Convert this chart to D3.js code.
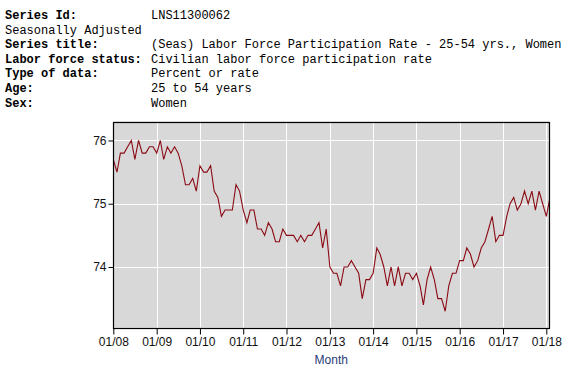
<!DOCTYPE html>
<html>
<head>
<meta charset="utf-8">
<script src="https://cdn.jsdelivr.net/npm/d3@7/dist/d3.min.js"></script>
<style>
  html, body { margin: 0; padding: 0; background: #ffffff; }
  svg { display: block; }
</style>
</head>
<body>
<svg id="chart" width="567" height="375"></svg>
<script>
// ---- header ----
const headerLabels = ["Series Id:", "Seasonally Adjusted", "Series title:", "Labor force status:", "Type of data:", "Age:", "Sex:"];
const headerBold = [true, false, true, true, true, true, true];
const headerValues = ["LNS11300062", "", "(Seas) Labor Force Participation Rate - 25-54 yrs., Women", "Civilian labor force participation rate", "Percent or rate", "25 to 54 years", "Women"];

// ---- data: monthly, Jan 2008 .. Feb 2018 ----
const startYear = 2008, startMonth = 0;
const values = [
  75.7, 75.5, 75.8, 75.8, 75.9, 76.0, 75.7, 76.0, 75.8, 75.8, 75.9, 75.9,
  75.8, 76.0, 75.7, 75.9, 75.8, 75.9, 75.8, 75.6, 75.3, 75.3, 75.4, 75.2,
  75.6, 75.5, 75.5, 75.6, 75.2, 75.1, 74.8, 74.9, 74.9, 74.9, 75.3, 75.2,
  74.9, 74.7, 74.9, 74.9, 74.6, 74.6, 74.5, 74.7, 74.6, 74.4, 74.4, 74.6,
  74.5, 74.5, 74.5, 74.4, 74.5, 74.4, 74.5, 74.5, 74.6, 74.7, 74.3, 74.6,
  74.0, 73.9, 73.9, 73.7, 74.0, 74.0, 74.1, 74.0, 73.9, 73.5, 73.8, 73.8,
  73.9, 74.3, 74.2, 74.0, 73.7, 74.0, 73.7, 74.0, 73.7, 73.9, 73.9, 73.8,
  73.9, 73.7, 73.4, 73.8, 74.0, 73.8, 73.5, 73.5, 73.3, 73.7, 73.9, 73.9,
  74.1, 74.1, 74.3, 74.2, 74.0, 74.1, 74.3, 74.4, 74.6, 74.8, 74.4, 74.5,
  74.5, 74.8, 75.0, 75.1, 74.9, 75.0, 75.2, 75.0, 75.2, 74.9, 75.2, 75.0,
  74.8, 75.1
];
const xTickLabels = ["01/08","01/09","01/10","01/11","01/12","01/13","01/14","01/15","01/16","01/17","01/18"];
const yTickValues = [74, 75, 76];
const xAxisTitle = "Month";

const data = values.map((v, i) => ({ date: new Date(startYear, startMonth + i, 1), value: v }));

const svg = d3.select("#chart");

// header text
const hdr = svg.append("g").attr("font-family", "'Liberation Mono', 'Courier New', monospace").attr("font-size", "12px").attr("fill", "#000");
headerLabels.forEach((t, i) => {
  hdr.append("text").attr("x", 5).attr("y", 19 + i * 14.6)
    .attr("font-weight", headerBold[i] ? "bold" : "normal").text(t);
  if (headerValues[i]) {
    hdr.append("text").attr("x", 151).attr("y", 19 + i * 14.6).text(headerValues[i]);
  }
});

// plot box
const box = { left: 113.3, right: 549.3, top: 121.5, bottom: 327.7 };

const x = d3.scaleTime()
  .domain([data[0].date, data[data.length - 1].date])
  .range([113.3, 550]);
const y = d3.scaleLinear()
  .domain([73.04, 76.3])
  .range([box.bottom, box.top]);

svg.append("rect")
  .attr("x", box.left).attr("y", box.top)
  .attr("width", box.right - box.left).attr("height", box.bottom - box.top)
  .attr("fill", "#d8d8d8");

const xTicks = xTickLabels.map((_, i) => new Date(2008 + i, 0, 1));

// gridlines
svg.append("g").selectAll("line").data(xTicks).join("line")
  .attr("x1", d => Math.round(x(d)) + 0.5).attr("x2", d => Math.round(x(d)) + 0.5)
  .attr("y1", box.top).attr("y2", box.bottom)
  .attr("stroke", "#ffffff").attr("stroke-width", 1);
svg.append("g").selectAll("line").data(yTickValues).join("line")
  .attr("x1", box.left).attr("x2", box.right + 2)
  .attr("y1", d => Math.round(y(d)) + 0.5).attr("y2", d => Math.round(y(d)) + 0.5)
  .attr("stroke", "#ffffff").attr("stroke-width", 1);

// clip
svg.append("clipPath").attr("id", "clip").append("rect")
  .attr("x", box.left).attr("y", box.top)
  .attr("width", box.right - box.left + 0.5).attr("height", box.bottom - box.top);

const line = d3.line().x(d => x(d.date)).y(d => y(d.value));
svg.append("path").datum(data)
  .attr("clip-path", "url(#clip)")
  .attr("d", line)
  .attr("fill", "none")
  .attr("stroke", "#8b0a14")
  .attr("stroke-width", 1.1)
  .attr("stroke-linejoin", "miter");

// border
svg.append("rect")
  .attr("x", Math.round(box.left) + 0.5).attr("y", Math.round(box.top) + 0.5)
  .attr("width", Math.round(box.right) - Math.round(box.left)).attr("height", Math.round(box.bottom) - Math.round(box.top))
  .attr("fill", "none").attr("stroke", "#000").attr("stroke-width", 1.2);

// axes
const xAxis = d3.axisBottom(x).tickValues(xTicks)
  .tickFormat((d, i) => xTickLabels[i]).tickSize(6).tickPadding(3);
const gx = svg.append("g").attr("transform", `translate(0,${Math.round(box.bottom) + 0.5})`).call(xAxis);
gx.select(".domain").remove();
gx.selectAll("line").attr("stroke", "#000");
gx.selectAll("text").attr("font-family", "Arial, 'Liberation Sans', sans-serif").attr("font-size", "12px").attr("fill", "#111");

const yAxis = d3.axisLeft(y).tickValues(yTickValues).tickFormat(d3.format("d")).tickSize(5).tickPadding(2);
const gy = svg.append("g").attr("transform", `translate(${Math.round(box.left) + 0.5},0)`).call(yAxis);
gy.select(".domain").remove();
gy.selectAll("line").attr("stroke", "#000");
gy.selectAll("text").attr("font-family", "Arial, 'Liberation Sans', sans-serif").attr("font-size", "12px").attr("fill", "#111");

svg.append("text")
  .attr("x", (box.left + box.right) / 2).attr("y", 364)
  .attr("text-anchor", "middle")
  .attr("font-family", "Arial, 'Liberation Sans', sans-serif").attr("font-size", "12px")
  .attr("fill", "#1f3d7a")
  .text(xAxisTitle);
</script>
</body>
</html>
